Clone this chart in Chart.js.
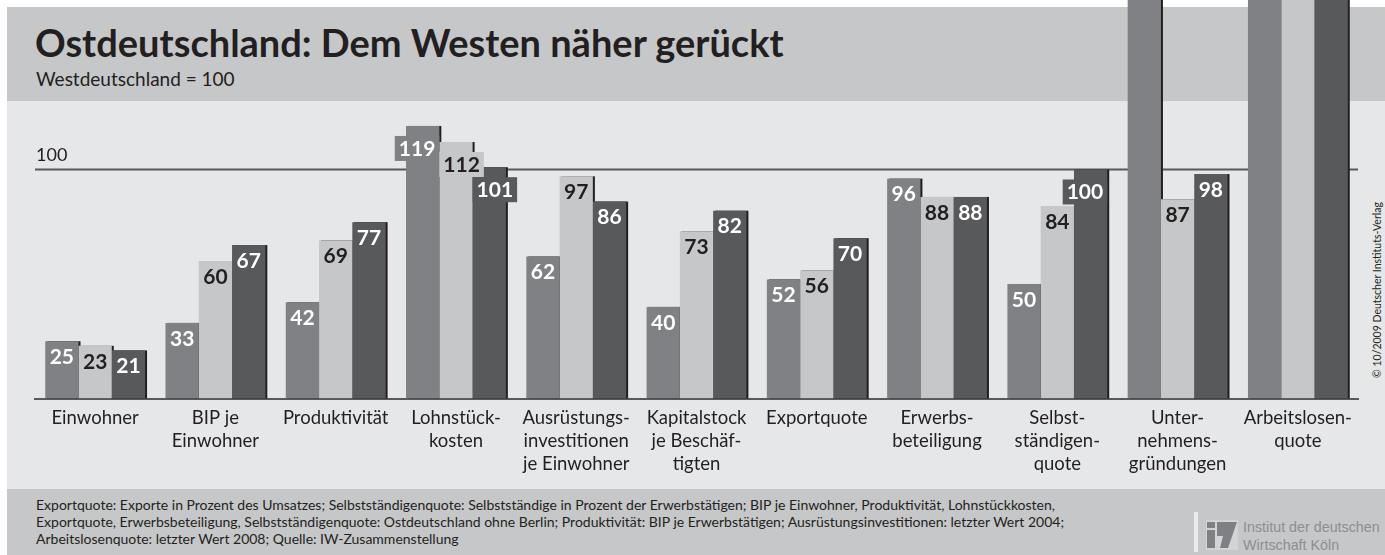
<!DOCTYPE html>
<html lang="de">
<head>
<meta charset="utf-8">
<title>Ostdeutschland: Dem Westen näher gerückt</title>
<script src="https://cdn.jsdelivr.net/npm/chart.js@4.4.1/dist/chart.umd.min.js"></script>
<style>
  html, body { margin: 0; padding: 0; background: #fff; }
  body { width: 1385px; height: 555px; position: relative; overflow: hidden; font-family: Lato, "Open Sans", sans-serif; color: #231f20; }
  .band { position: absolute; left: 7px; right: 0; }
  #kopf { top: 7px; height: 94px; background: #c6c7c9; }
  #flaeche { top: 101px; height: 388px; background: #e6e7e8; }
  #fuss { top: 489px; height: 66px; background: #c6c7c9; }
  #titel { position: absolute; left: 35px; top: 19px; font-size: 38px; font-weight: 700; white-space: nowrap; }
  #untertitel { position: absolute; left: 36px; top: 67px; font-size: 19px; }
  #quelle { position: absolute; left: 36px; top: 496px; font-size: 14px; line-height: 17px; }
  #copy { position: absolute; left: 1377px; top: 290px; font-size: 10.5px; white-space: nowrap;
          transform: translate(-50%, -50%) rotate(-90deg); }
  #logo { position: absolute; left: 1194px; top: 512px; }
  #logotext { position: absolute; left: 1243px; top: 518px; font-family: "Liberation Sans", Arial, sans-serif;
              font-size: 14.3px; line-height: 18px; color: #8d8e91; }
  canvas { position: absolute; left: 0; top: 0; }
</style>
</head>
<body>
<div class="band" id="kopf"></div>
<div class="band" id="flaeche"></div>
<div class="band" id="fuss"></div>
<div id="titel">Ostdeutschland: Dem Westen näher gerückt</div>
<div id="untertitel">Westdeutschland = 100</div>
<div id="quelle">Exportquote: Exporte in Prozent des Umsatzes; Selbstständigenquote: Selbstständige in Prozent der Erwerbstätigen; BIP je Einwohner, Produktivität, Lohnstückkosten,<br>Exportquote, Erwerbsbeteiligung, Selbstständigenquote: Ostdeutschland ohne Berlin; Produktivität: BIP je Erwerbstätigen; Ausrüstungsinvestitionen: letzter Wert 2004;<br>Arbeitslosenquote: letzter Wert 2008; Quelle: IW-Zusammenstellung</div>
<div id="copy">© 10/2009 Deutscher Instituts-Verlag</div>
<svg id="logo" width="48" height="40" viewBox="0 0 48 40">
  <rect x="0" y="0" width="4" height="40" fill="#e9eaeb"/>
  <rect x="12" y="8" width="32" height="30" fill="#d3d4d6"/>
  <rect x="13" y="10" width="8" height="6" fill="#7f8083"/>
  <polygon points="13,18 21,18 21,36 13,36" fill="#7f8083"/>
  <polygon points="23,10 43,10 34,36 26,36 29,24 23,24" fill="#7f8083"/>
</svg>
<div id="logotext">Institut der deutschen<br>Wirtschaft Köln</div>
<canvas id="chart" width="1385" height="555"></canvas>
<script>
// Ostdeutschland im Vergleich zu Westdeutschland (West = 100)
const categories = [
    ['Einwohner'], ['BIP je', 'Einwohner'], ['Produktivität'], ['Lohnstück-', 'kosten'],
    ['Ausrüstungs-', 'investitionen', 'je Einwohner'], ['Kapitalstock', 'je Beschäf-', 'tigten'],
    ['Exportquote'], ['Erwerbs-', 'beteiligung'], ['Selbst-', 'ständigen-', 'quote'],
    ['Unter-', 'nehmens-', 'gründungen'], ['Arbeitslosen-', 'quote']
];
// drei Zeitpunkte, Werte ueber dem oberen Rand sind geschaetzt
const ersterWert = [25, 33, 42, 119, 62, 40, 52, 96, 50, 185, 190];
const mittlererWert = [23, 60, 69, 112, 97, 73, 56, 88, 84, 87, 235];
const letzterWert = [21, 67, 77, 101, 86, 82, 70, 88, 100, 98, 205];
const referenz = 100;

const farben = ['#808184', '#c6c7c9', '#58595b'];
const textFarben = ['#ffffff', '#231f20', '#ffffff'];
const dunkel = '#231f20';
const linie = '#58595b';
const yMax = 174;

const hintergrund = {
    id: 'hintergrund',
    beforeDatasetsDraw(chart) {
        const ctx = chart.ctx;
        const area = chart.chartArea;
        const y = chart.scales.y.getPixelForValue(referenz);
        ctx.save();
        // Referenzlinie 100
        ctx.strokeStyle = linie;
        ctx.lineWidth = 2;
        ctx.beginPath();
        ctx.moveTo(area.left, y);
        ctx.lineTo(area.right, y);
        ctx.stroke();
        ctx.fillStyle = dunkel;
        ctx.font = '18px Lato, sans-serif';
        ctx.textBaseline = 'alphabetic';
        ctx.fillText(String(referenz), area.left + 1, y - 8);
        // Schatten rechts neben jedem Balken
        ctx.fillStyle = dunkel;
        chart.data.datasets.forEach((ds, i) => {
            chart.getDatasetMeta(i).data.forEach(bar => {
                ctx.fillRect(bar.x - bar.width / 2 + 2, bar.y, bar.width, bar.base - bar.y);
            });
        });
        ctx.restore();
    }
};

const werte = {
    id: 'werte',
    afterDatasetsDraw(chart) {
        const ctx = chart.ctx;
        const metas = chart.data.datasets.map((ds, i) => chart.getDatasetMeta(i).data);
        // Balken in Reihenfolge von links nach rechts, um Nachbarn zu finden
        const reihe = [];
        categories.forEach((c, j) => metas.forEach((m, i) => reihe.push({ i, j })));
        ctx.save();
        ctx.font = 'bold 21px Lato, sans-serif';
        ctx.textAlign = 'center';
        ctx.textBaseline = 'middle';
        reihe.forEach((r, k) => {
            const v = chart.data.datasets[r.i].data[r.j];
            if (v > yMax - 5) return;
            const bar = metas[r.i][r.j];
            const text = String(v);
            const tw = ctx.measureText(text).width;
            let cx = bar.x;
            let cy = bar.y + 16;
            if (tw + 6 > bar.width) {
                const bw = tw + 8;
                const links = k > 0 ? chart.data.datasets[reihe[k - 1].i].data[reihe[k - 1].j] : 0;
                const rechts = k < reihe.length - 1 ? chart.data.datasets[reihe[k + 1].i].data[reihe[k + 1].j] : 0;
                const x0 = links < rechts ? bar.x + bar.width / 2 - bw : bar.x - bar.width / 2;
                ctx.fillStyle = farben[r.i];
                ctx.fillRect(x0, bar.y + 10, bw, 25);
                cx = x0 + bw / 2;
                cy = bar.y + 23;
            }
            ctx.fillStyle = textFarben[r.i];
            ctx.fillText(text, cx, cy);
        });
        ctx.restore();
    }
};

const datensaetze = [ersterWert, mittlererWert, letzterWert].map((d, i) => ({
    label: ['erster Wert', 'mittlerer Wert', 'letzter Wert'][i],
    data: d,
    backgroundColor: farben[i],
    borderWidth: 0,
    categoryPercentage: 0.83,
    barPercentage: 1.0
}));

new Chart(document.getElementById('chart').getContext('2d'), {
    type: 'bar',
    data: { labels: categories, datasets: datensaetze },
    options: {
        responsive: false,
        animation: false,
        devicePixelRatio: 1,
        layout: { padding: { left: 35, right: 27, top: 0, bottom: 0 } },
        plugins: { legend: { display: false }, tooltip: { enabled: false } },
        scales: {
            x: {
                grid: { display: false },
                border: { color: linie, width: 2 },
                ticks: { color: dunkel, font: { family: 'Lato', size: 18.5, lineHeight: 1.24 }, padding: 0, maxRotation: 0, autoSkip: false },
                afterFit(axis) { axis.height = 156.5; }
            },
            y: {
                display: false,
                min: 0,
                max: yMax
            }
        }
    },
    plugins: [hintergrund, werte]
});
</script>
</body>
</html>
